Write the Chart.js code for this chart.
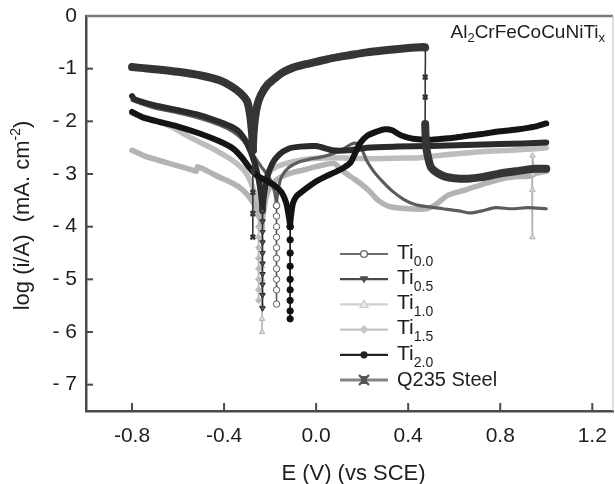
<!DOCTYPE html>
<html>
<head>
<meta charset="utf-8">
<script src="https://cdn.jsdelivr.net/npm/chart.js@4.4.1/dist/chart.umd.min.js"></script>
<style>
  html, body { margin: 0; padding: 0; background: #fff; }
</style>
</head>
<body>
<canvas id="tafel" width="615" height="484"></canvas>
<script>
// Axis ticks
const xTicks = [-0.8, -0.4, 0.0, 0.4, 0.8, 1.2];
const xTickLabels = ['-0.8', '-0.4', '0.0', '0.4', '0.8', '1.2'];
const yTicks = [0, -1, -2, -3, -4, -5, -6, -7];
const yTickLabels = ['0', '-1', '- 2', '- 3', '- 4', '- 5', '- 6', '- 7'];

const seriesNames = ['0.0', '0.5', '1.0', '1.5', '2.0', 'Q235 Steel'];

// Polarization curves: potential E (V vs SCE) and log current density
const ti00E = [-0.80, -0.75, -0.70, -0.60, -0.50, -0.42, -0.36, -0.32, -0.28, -0.24, -0.20, -0.18,
  -0.172, -0.172, -0.172, -0.172, -0.172, -0.172, -0.172, -0.172, -0.172, -0.172, -0.172,
  -0.165, -0.15, -0.12, -0.08, -0.03, 0.02, 0.07, 0.11, 0.15, 0.175, 0.20, 0.22, 0.25, 0.29, 0.33,
  0.38, 0.43, 0.48, 0.55, 0.62, 0.67, 0.72, 0.78, 0.85, 0.92, 1.00];
const ti00LogI = [-1.60, -1.68, -1.75, -1.84, -1.95, -2.07, -2.20, -2.35, -2.60, -2.85, -3.10, -3.35,
  -3.6, -3.8, -4.0, -4.2, -4.4, -4.6, -4.8, -5.0, -5.2, -5.47, -3.6,
  -3.30, -3.05, -2.88, -2.78, -2.72, -2.68, -2.62, -2.55, -2.44, -2.42, -2.55, -2.75, -2.95, -3.15, -3.32,
  -3.48, -3.58, -3.62, -3.66, -3.70, -3.74, -3.70, -3.64, -3.66, -3.64, -3.66];

const ti05E = [-0.80, -0.79, -0.75, -0.70, -0.60, -0.50, -0.42, -0.36, -0.33, -0.30, -0.27, -0.25, -0.238,
  -0.233, -0.233, -0.233, -0.233, -0.233, -0.233, -0.233, -0.233, -0.233, -0.233, -0.233,
  -0.228, -0.215, -0.19, -0.16, -0.12, -0.07, 0.00, 0.07, 0.14, 0.22, 0.35, 0.50, 0.65, 0.80, 0.90, 1.00];
const ti05LogI = [-1.52, -1.58, -1.64, -1.70, -1.79, -1.89, -2.01, -2.12, -2.22, -2.42, -2.75, -3.10, -3.45,
  -3.7, -3.9, -4.1, -4.3, -4.5, -4.7, -4.9, -5.1, -5.3, -5.55, -3.7,
  -3.45, -3.10, -2.80, -2.63, -2.52, -2.48, -2.47, -2.55, -2.55, -2.50, -2.48, -2.47, -2.45, -2.43, -2.42, -2.40];

const ti10E = [-0.80, -0.75, -0.70, -0.62, -0.54, -0.52, -0.515, -0.47, -0.42, -0.36, -0.32, -0.28, -0.25,
  -0.235, -0.235, -0.235, -0.235, -0.235, -0.235, -0.235, -0.235, -0.235, -0.235,
  -0.228, -0.215, -0.19, -0.15, -0.10, -0.05, 0.00, 0.05, 0.08, 0.11, 0.15, 0.19, 0.23, 0.27, 0.32,
  0.40, 0.48, 0.52, 0.57, 0.65, 0.72, 0.80, 0.87, 0.94, 0.94, 0.94, 0.94, 0.94, 0.96, 1.00];
const ti10LogI = [-2.55, -2.65, -2.72, -2.82, -2.92, -2.95, -2.86, -2.95, -3.06, -3.18, -3.30, -3.50, -3.75,
  -4.0, -4.25, -4.5, -4.75, -5.0, -5.25, -5.5, -5.75, -6.0, -4.0,
  -3.70, -3.40, -3.18, -3.05, -2.97, -2.92, -2.86, -2.81, -2.80, -2.92, -3.05, -3.17, -3.32, -3.50, -3.62,
  -3.66, -3.66, -3.58, -3.41, -3.30, -3.20, -3.10, -3.05, -3.02, -2.65, -3.3, -4.2, -3.0, -2.98, -2.95];

const ti15E = [-0.80, -0.70, -0.63, -0.55, -0.48, -0.42, -0.36, -0.31, -0.28, -0.26,
  -0.25, -0.25, -0.25, -0.25, -0.25, -0.25, -0.25, -0.25, -0.25, -0.25,
  -0.243, -0.23, -0.21, -0.18, -0.13, -0.07, 0.00, 0.07, 0.15, 0.25, 0.35, 0.45, 0.55, 0.65, 0.75, 0.85, 0.95, 1.00];
const ti15LogI = [-1.85, -1.98, -2.10, -2.30, -2.45, -2.59, -2.75, -2.95, -3.20, -3.50,
  -3.8, -4.0, -4.2, -4.4, -4.6, -4.8, -5.0, -5.2, -5.4, -3.8,
  -3.50, -3.20, -3.00, -2.88, -2.80, -2.74, -2.70, -2.69, -2.70, -2.71, -2.70, -2.69, -2.64, -2.60, -2.57, -2.55, -2.52, -2.50];

const ti20E = [-0.80, -0.75, -0.70, -0.60, -0.50, -0.42, -0.36, -0.32, -0.29, -0.26, -0.22, -0.18, -0.15, -0.13, -0.119,
  -0.113, -0.113, -0.113, -0.113, -0.113, -0.113, -0.113, -0.113, -0.113, -0.113,
  -0.108, -0.10, -0.085, -0.06, -0.02, 0.00, 0.04, 0.08, 0.12, 0.15, 0.17, 0.19, 0.22, 0.26, 0.30, 0.33,
  0.37, 0.42, 0.50, 0.58, 0.65, 0.72, 0.80, 0.88, 0.95, 1.00];
const ti20LogI = [-1.82, -1.93, -1.99, -2.10, -2.24, -2.38, -2.52, -2.70, -2.88, -3.02, -3.12, -3.22, -3.35, -3.55, -3.80,
  -4.0, -4.25, -4.5, -4.75, -5.0, -5.2, -5.4, -5.6, -5.75, -4.0,
  -3.75, -3.55, -3.42, -3.33, -3.20, -3.14, -3.05, -2.97, -2.88, -2.78, -2.60, -2.42, -2.28, -2.20, -2.15, -2.17,
  -2.27, -2.33, -2.35, -2.32, -2.28, -2.24, -2.19, -2.15, -2.10, -2.04];

const q235E = [-0.80, -0.75, -0.70, -0.60, -0.50, -0.42, -0.37, -0.33, -0.30, -0.288, -0.28, -0.276,
  -0.275, -0.275, -0.275, -0.275, -0.275, -0.275,
  -0.273, -0.266, -0.256, -0.24, -0.21, -0.17, -0.14, -0.10, -0.05, 0.00, 0.07, 0.15, 0.22, 0.30, 0.37, 0.43, 0.465,
  0.474, 0.474, 0.474, 0.474,
  0.478, 0.487, 0.50, 0.526, 0.56, 0.60, 0.66, 0.72, 0.80, 0.88, 0.95, 1.00];
const q235LogI = [-0.97, -0.99, -1.01, -1.06, -1.13, -1.22, -1.33, -1.46, -1.62, -1.85, -2.15, -2.40,
  -2.55, -2.95, -3.35, -3.75, -4.2, -2.55,
  -2.30, -1.95, -1.70, -1.50, -1.30, -1.15, -1.06, -0.98, -0.92, -0.87, -0.80, -0.74, -0.69, -0.65, -0.62, -0.60, -0.59,
  -0.60, -1.16, -1.54, -2.05,
  -2.45, -2.70, -2.88, -2.98, -3.05, -3.08, -3.09, -3.06, -2.99, -2.94, -2.90, -2.90];

const FONT = "'Liberation Sans', Arial, sans-serif";
Chart.defaults.font.family = FONT;

function toPoints(xs, ys) {
  return xs.map((x, i) => ({ x: x, y: ys[i] }));
}

// a point sitting on a vertical run (same E as a neighbour) gets a marker
function onVerticalRun(ctx) {
  const data = ctx.dataset.data;
  const i = ctx.dataIndex;
  if (!data[i]) return false;
  const x = data[i].x;
  return (i > 0 && data[i - 1].x === x) || (i < data.length - 1 && data[i + 1].x === x);
}

function curve(label, xs, ys, color, width, style, markerFill, order, extra) {
  return Object.assign({
    label: label,
    data: toPoints(xs, ys),
    borderColor: color,
    borderWidth: width,
    borderJoinStyle: 'round',
    borderCapStyle: 'round',
    tension: 0.25,
    fill: false,
    order: order,
    pointStyle: style,
    pointBackgroundColor: markerFill,
    pointBorderColor: color,
    pointBorderWidth: 1,
    pointRadius: ctx => onVerticalRun(ctx) ? 3.2 : 0,
    pointHoverRadius: 0,
    segment: {
      borderWidth: c => c.p0.parsed.x === c.p1.parsed.x ? 1.6 : width
    }
  }, extra || {});
}

const datasets = [
  curve('Ti0.0', ti00E, ti00LogI, '#5c5c5c', 3.2, 'circle', '#ffffff', 3),
  curve('Ti0.5', ti05E, ti05LogI, '#2b2b2b', 6, 'triangle', '#555555', 2, { pointRotation: 180 }),
  curve('Ti1.0', ti10E, ti10LogI, '#b3b3b3', 5.5, 'triangle', '#dddddd', 5),
  curve('Ti1.5', ti15E, ti15LogI, '#bdbdbd', 5.5, 'rectRot', '#bbbbbb', 6),
  curve('Ti2.0', ti20E, ti20LogI, '#141414', 6, 'circle', '#111111', 1),
  curve('Q235 Steel', q235E, q235LogI, '#353535', 8, 'crossRot', '#333333', 0, { pointBorderWidth: 2.5 })
];

// legend swatches
const legendLines = ['#6a6a6a', '#4a4a4a', '#cfcfcf', '#c6c6c6', '#222222', '#858585'];
const legendMarks = ['circle', 'triangleDown', 'triangle', 'diamond', 'dot', 'cross'];

function drawMark(ctx, kind, cx, cy, color) {
  ctx.save();
  ctx.lineWidth = 1.4;
  ctx.strokeStyle = color;
  ctx.fillStyle = color;
  ctx.beginPath();
  if (kind === 'circle') {
    ctx.fillStyle = '#fff';
    ctx.arc(cx, cy, 3.4, 0, Math.PI * 2);
    ctx.fill(); ctx.stroke();
  } else if (kind === 'dot') {
    ctx.arc(cx, cy, 3.6, 0, Math.PI * 2);
    ctx.fill();
  } else if (kind === 'triangleDown') {
    ctx.moveTo(cx - 4.5, cy - 3); ctx.lineTo(cx + 4.5, cy - 3); ctx.lineTo(cx, cy + 4);
    ctx.closePath(); ctx.fill();
  } else if (kind === 'triangle') {
    ctx.fillStyle = '#eee';
    ctx.moveTo(cx - 4, cy + 3); ctx.lineTo(cx + 4, cy + 3); ctx.lineTo(cx, cy - 4);
    ctx.closePath(); ctx.fill(); ctx.stroke();
  } else if (kind === 'diamond') {
    ctx.moveTo(cx, cy - 4.5); ctx.lineTo(cx + 4.5, cy); ctx.lineTo(cx, cy + 4.5); ctx.lineTo(cx - 4.5, cy);
    ctx.closePath(); ctx.fill();
  } else if (kind === 'cross') {
    ctx.fillRect(cx - 3, cy - 4, 6, 8);
    ctx.lineWidth = 2.4;
    ctx.moveTo(cx - 5, cy - 5); ctx.lineTo(cx + 5, cy + 5);
    ctx.moveTo(cx + 5, cy - 5); ctx.lineTo(cx - 5, cy + 5);
    ctx.stroke();
  }
  ctx.restore();
}

// draws text pieces in a row; pieces are [text, size, baselineShift]
function drawRich(ctx, pieces, x, y) {
  let cx = x;
  pieces.forEach(([t, size, dy]) => {
    ctx.font = size + 'px ' + FONT;
    ctx.fillText(t, cx, y + dy);
    cx += ctx.measureText(t).width;
  });
}
function richWidth(ctx, pieces) {
  return pieces.reduce((w, [t, size]) => {
    ctx.font = size + 'px ' + FONT;
    return w + ctx.measureText(t).width;
  }, 0);
}

const decorations = {
  id: 'decorations',
  afterDraw(chart) {
    const { ctx, chartArea: a, scales: { x, y } } = chart;
    ctx.save();

    // top and right edges of the frame
    ctx.strokeStyle = '#7c7c7c';
    ctx.lineWidth = 2.5;
    ctx.beginPath(); ctx.moveTo(a.left, a.top); ctx.lineTo(a.right, a.top); ctx.stroke();
    ctx.strokeStyle = '#c8c8c8';
    ctx.lineWidth = 1.2;
    ctx.beginPath(); ctx.moveTo(a.right, a.top); ctx.lineTo(a.right, a.bottom); ctx.stroke();

    // tick marks pointing inwards
    ctx.strokeStyle = '#4a4a4a';
    ctx.lineWidth = 2;
    yTicks.forEach(v => {
      if (v === 0) return;
      const py = y.getPixelForValue(v);
      ctx.beginPath(); ctx.moveTo(a.left, py); ctx.lineTo(a.left + 7, py); ctx.stroke();
    });
    xTicks.forEach(v => {
      const px = x.getPixelForValue(v);
      ctx.beginPath(); ctx.moveTo(px, a.bottom); ctx.lineTo(px, a.bottom - 8); ctx.stroke();
    });

    ctx.fillStyle = '#1e1e1e';
    ctx.textBaseline = 'middle';
    ctx.textAlign = 'left';

    // x axis title
    ctx.font = '22px ' + FONT;
    ctx.textAlign = 'center';
    ctx.fillText('E (V) (vs SCE)', (a.left + a.right) / 2 + 4, 474);
    ctx.textAlign = 'left';

    // y axis title, rotated, with superscript
    const yTitle = [['log (i/A)  (mA. cm', 22, 0], ['-2', 14, -7], [')', 22, 0]];
    ctx.save();
    ctx.translate(23, (a.top + a.bottom) / 2 + 2);
    ctx.rotate(-Math.PI / 2);
    drawRich(ctx, yTitle, -richWidth(ctx, yTitle) / 2, 0);
    ctx.restore();

    // alloy formula
    const formula = [['Al', 19, 0], ['2', 13, 5], ['CrFeCoCuNiTi', 19, 0], ['x', 13, 5]];
    drawRich(ctx, formula, a.right - 8 - richWidth(ctx, formula), 33);

    // legend
    seriesNames.forEach((name, i) => {
      const ry = 254 + i * 25.2;
      ctx.strokeStyle = legendLines[i];
      ctx.lineWidth = i === 5 ? 3 : 2.2;
      ctx.beginPath(); ctx.moveTo(340, ry); ctx.lineTo(388, ry); ctx.stroke();
      drawMark(ctx, legendMarks[i], 364, ry, i === 5 ? '#555' : legendLines[i]);
      ctx.fillStyle = '#1e1e1e';
      if (i === 5) {
        drawRich(ctx, [[name, 20, 0]], 397, ry);
      } else {
        drawRich(ctx, [['Ti', 21, -1], [name, 14, 8]], 397, ry);
      }
    });

    ctx.restore();
  }
};

new Chart(document.getElementById('tafel'), {
  type: 'line',
  data: { datasets: datasets },
  options: {
    responsive: false,
    animation: false,
    layout: { padding: { top: 16, right: 2, left: 0, bottom: 0 } },
    plugins: { legend: { display: false }, tooltip: { enabled: false } },
    scales: {
      x: {
        type: 'linear',
        min: -1.0,
        max: 1.29,
        afterBuildTicks: s => { s.ticks = xTicks.map(v => ({ value: v })); },
        afterFit: s => { s.height = 73; s.paddingLeft = 0; s.paddingRight = 0; },
        grid: { display: false, drawTicks: false },
        border: { display: true, color: '#4a4a4a', width: 2.5 },
        ticks: {
          autoSkip: false,
          maxRotation: 0,
          padding: 13,
          color: '#1e1e1e',
          font: { size: 21 },
          callback: v => xTickLabels[xTicks.findIndex(t => Math.abs(t - v) < 1e-9)]
        }
      },
      y: {
        type: 'linear',
        min: -7.5,
        max: 0,
        afterBuildTicks: s => { s.ticks = yTicks.map(v => ({ value: v })); },
        afterFit: s => { s.width = 86; s.paddingTop = 0; s.paddingBottom = 0; },
        grid: { display: false, drawTicks: false },
        border: { display: true, color: '#4a4a4a', width: 2.5 },
        ticks: {
          autoSkip: false,
          padding: 9,
          color: '#1e1e1e',
          font: { size: 21 },
          callback: v => yTickLabels[yTicks.findIndex(t => Math.abs(t - v) < 1e-9)]
        }
      }
    }
  },
  plugins: [decorations]
});
</script>
</body>
</html>
